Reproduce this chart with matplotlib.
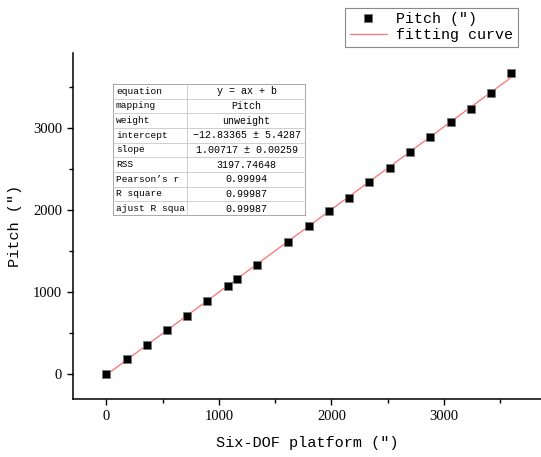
import numpy as np
import matplotlib
matplotlib.use("Agg")
import matplotlib.pyplot as plt
from matplotlib.patches import Rectangle

# data (arcsec)
platform = [0, 180, 358, 539, 719, 896, 1077, 1157, 1340, 1615, 1799, 1976,
            2156, 2334, 2517, 2697, 2877, 3059, 3236, 3414, 3597]
pitch = [-4, 180, 355, 531, 709, 892, 1072, 1154, 1329, 1614, 1806, 1985,
         2148, 2343, 2518, 2714, 2897, 3077, 3236, 3435, 3676]

# fit report table
row_names = ["equation", "mapping", "weight", "intercept", "slope", "RSS",
             "Pearson\u2019s r", "R square", "ajust R squa"]
row_values = ["y = ax + b", "Pitch", "unweight", "\u221212.83365 \u00b1 5.4287",
              "1.00717 \u00b1 0.00259", "3197.74648", "0.99994", "0.99987", "0.99987"]

mono = ["Liberation Mono", "DejaVu Sans"]
serif = ["Liberation Serif", "DejaVu Serif"]

W, H = 541, 457
fig = plt.figure(figsize=(W / 100, H / 100), dpi=100)
ax = fig.add_axes([73 / W, (H - 399) / H, 1 - 73 / W, (399 - 53) / H])

x = np.array(platform, dtype=float)
y = np.array(pitch, dtype=float)
a, b = np.polyfit(x, y, 1)
xf = np.array([x.min(), x.max()])

ax.plot(xf, a * xf + b, color="#ff7070", lw=0.9, zorder=2, label="fitting curve")
ax.plot(x, y, ls="none", marker="s", ms=5.2, mfc="black", mec="#777777",
        mew=0.6, zorder=3, label="Pitch (\u2033)")

ax.set_xlim(-295, 3860)
ax.set_ylim(-309, 3920)
ax.set_xticks([0, 1000, 2000, 3000])
ax.set_yticks([0, 1000, 2000, 3000])
ax.set_xticks(np.arange(500, 4000, 1000), minor=True)
ax.set_yticks(np.arange(500, 4000, 1000), minor=True)
ax.tick_params(which="major", length=4, width=1.0, direction="out", pad=4,
               labelsize=10.5)
ax.tick_params(which="minor", length=3, width=1.0, direction="out")
for lab in ax.get_xticklabels() + ax.get_yticklabels():
    lab.set_family(serif)
for s in ["top", "right"]:
    ax.spines[s].set_visible(False)
for s in ["left", "bottom"]:
    ax.spines[s].set_linewidth(1.1)

ax.set_xlabel("Six-DOF platform (\u2033)", family=mono, fontsize=11, labelpad=9)
ax.set_ylabel("Pitch (\u2033)", family=mono, fontsize=11, labelpad=8)

h, l = ax.get_legend_handles_labels()
leg = fig.legend([h[1], h[0]], [l[1], l[0]], loc="upper left",
                 bbox_to_anchor=(345 / W, 1 - 8 / H), prop={"family": mono, "size": 10.8},
                 frameon=True, fancybox=False, edgecolor="#888888", framealpha=1,
                 borderpad=0.3, labelspacing=0.1, handlelength=2.5,
                 handletextpad=0.6, borderaxespad=0)
leg.get_frame().set_linewidth(0.8)

# fit statistics table
tx0, tx1, ty0, ty1 = 113, 306, 84, 216
tab = fig.add_axes([tx0 / W, (H - ty1) / H, (tx1 - tx0) / W, (ty1 - ty0) / H])
tab.set_xlim(0, tx1 - tx0)
tab.set_ylim(ty1 - ty0, 0)
tab.axis("off")
n = len(row_names)
rh = (ty1 - ty0) / n
split = 187 - tx0
tab.add_patch(Rectangle((0, 0), tx1 - tx0, ty1 - ty0, facecolor="white",
                        edgecolor="#999999", lw=1.2, zorder=1))
for i in range(1, n):
    tab.plot([0, tx1 - tx0], [i * rh, i * rh], color="#c8c8c8", lw=0.6, zorder=2)
tab.plot([split, split], [0, ty1 - ty0], color="#c8c8c8", lw=0.6, zorder=2)
for i, (name, val) in enumerate(zip(row_names, row_values)):
    yc = (i + 0.5) * rh
    tab.text(3, yc, name, family=mono, fontsize=6.8, ha="left", va="center", zorder=3)
    tab.text((split + tx1 - tx0) / 2, yc, val, family=mono, fontsize=7.2,
             ha="center", va="center", zorder=3)

fig.savefig("out.png", dpi=100)
